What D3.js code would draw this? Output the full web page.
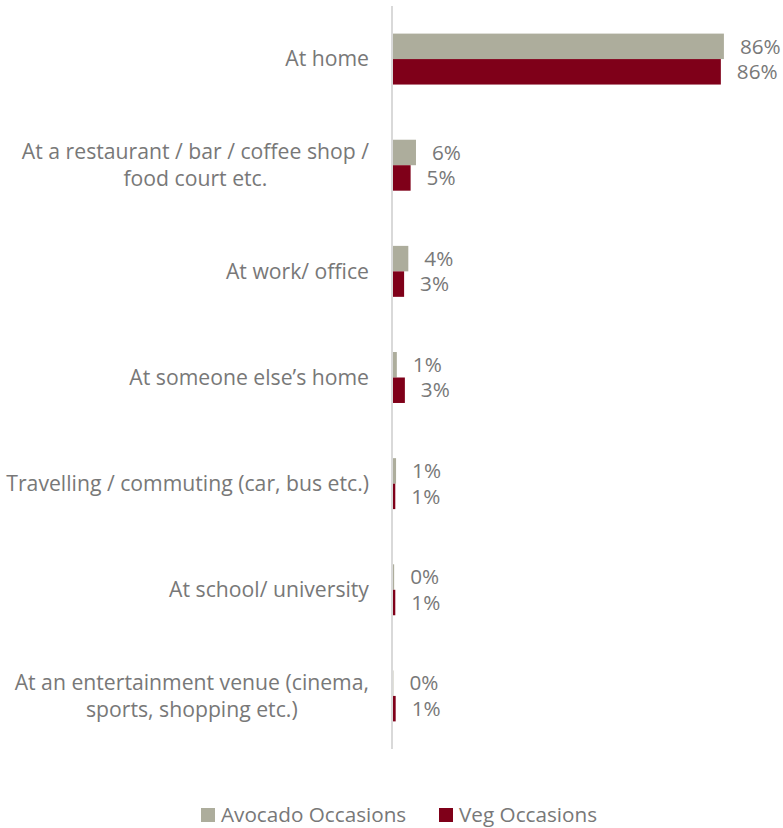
<!DOCTYPE html>
<html><head><meta charset="utf-8">
<script src="https://cdn.jsdelivr.net/npm/d3@7"></script>
<style>body{margin:0;background:#fff}svg text{font-family:"Open Sans",sans-serif}</style>
</head><body>
<svg id="chart" width="783" height="828"></svg>
<script>
const categories = [
  ["At home"],
  ["At a restaurant / bar / coffee shop /", "food court etc."],
  ["At work/ office"],
  ["At someone else\u2019s home"],
  ["Travelling / commuting (car, bus etc.)"],
  ["At school/ university"],
  ["At an entertainment venue (cinema,", "sports, shopping etc.)"]
];
const seriesNames = ["Avocado Occasions", "Veg Occasions"];
const avocado = [86.4, 6.0, 4.0, 1.0, 0.8, 0.3, 0.1];
const veg = [85.6, 4.6, 2.9, 3.1, 0.6, 0.6, 0.7];
const colors = ["#adad9c", "#7f0019"];
const textColor = "#787878";

const svg = d3.select("#chart");
const keys = categories.map((c,i)=>i);
const x = d3.scaleLinear().domain([0,100]).range([393,776]);
const y = d3.scaleBand().domain(keys).range([6,749]).paddingInner(0.52).paddingOuter(0.26);
const y1 = d3.scaleBand().domain([0,1]).range([0,y.bandwidth()]);
const fmt = d3.format(".0%");
const series = [avocado, veg];

const g = svg.append("g");
series.forEach((vals,s)=>{
  g.selectAll(".bar"+s).data(vals).join("rect")
    .attr("x", x(0)).attr("y",(d,i)=>y(i)+y1(s))
    .attr("width",d=>x(d)-x(0)).attr("height",y1.bandwidth())
    .attr("fill",colors[s]);
  g.selectAll(".lab"+s).data(vals).join("text")
    .attr("x",d=>x(d)+16).attr("y",(d,i)=>y(i)+y1(s)+y1.bandwidth()/2)
    .attr("dy","0.35em").attr("font-size",20.7).attr("fill",textColor)
    .text(d=>fmt(d/100));
});

// axis line
svg.append("line").attr("x1",392).attr("x2",392).attr("y1",6).attr("y2",749)
  .attr("stroke","#d9d9d9").attr("stroke-width",2);

// category labels
const lh = 27;
categories.forEach((lines,i)=>{
  const cy = y(i)+y.bandwidth()/2;
  const t = svg.append("text").attr("font-size",21.2).attr("fill",textColor).attr("text-anchor","middle");
  const tspans = lines.map((l,j)=>t.append("tspan").text(l));
  const w = d3.max(tspans,ts=>ts.node().getComputedTextLength());
  const cx = 369 - w/2;
  tspans.forEach((ts,j)=>ts.attr("x",cx).attr("y",cy + (j-(lines.length-1)/2)*lh).attr("dy","0.35em"));
});

// legend
const leg = svg.append("g");
const legX = [201, 439];
seriesNames.forEach((n,s)=>{
  leg.append("rect").attr("x",legX[s]).attr("y",808).attr("width",14).attr("height",14).attr("fill",colors[s]);
  leg.append("text").attr("x",legX[s]+20).attr("y",815).attr("dy","0.35em")
    .attr("font-size",20.7).attr("fill",textColor).text(n);
});
</script>
</body></html>
